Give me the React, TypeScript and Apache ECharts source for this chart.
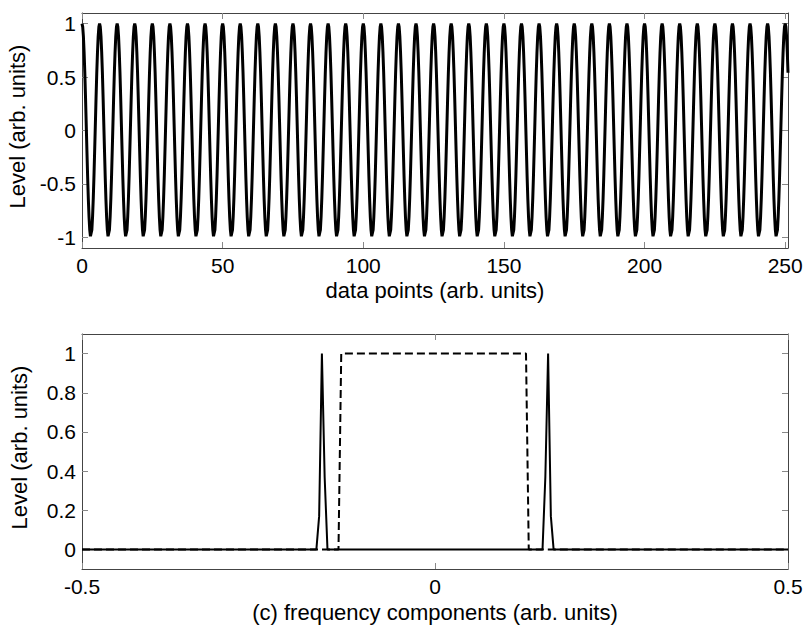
import React, { useEffect, useRef } from "react";
import * as echarts from "echarts";

// Time-domain waveform, sampled every quarter data point (x = index * sampleStep, 0..251)
const sampleStep = 0.25;
const signalLevels: number[] = [
  // x 0 .. 24.75
  1, 0.97, 0.88, 0.73, 0.54, 0.31, 0.06, -0.19, -0.43, -0.64, -0.81, -0.93, -0.99, -0.99, -0.93, -0.81, -0.64, -0.43, -0.19, 0.06, 0.31, 0.54, 0.73, 0.88, 0.97,
  1, 0.97, 0.88, 0.73, 0.54, 0.31, 0.06, -0.19, -0.43, -0.64, -0.81, -0.93, -0.99, -0.99, -0.93, -0.81, -0.64, -0.43, -0.19, 0.06, 0.31, 0.54, 0.73, 0.88, 0.97,
  1, 0.97, 0.88, 0.73, 0.54, 0.31, 0.06, -0.19, -0.43, -0.64, -0.81, -0.93, -0.99, -0.99, -0.93, -0.81, -0.64, -0.43, -0.19, 0.06, 0.31, 0.54, 0.73, 0.88, 0.97,
  1, 0.97, 0.88, 0.73, 0.54, 0.31, 0.06, -0.19, -0.43, -0.64, -0.81, -0.93, -0.99, -0.99, -0.93, -0.81, -0.64, -0.43, -0.19, 0.06, 0.31, 0.54, 0.73, 0.88, 0.97,
  // x 25 .. 49.75
  1, 0.97, 0.88, 0.73, 0.54, 0.31, 0.06, -0.19, -0.43, -0.64, -0.81, -0.93, -0.99, -0.99, -0.93, -0.81, -0.64, -0.43, -0.19, 0.06, 0.31, 0.54, 0.73, 0.88, 0.97,
  1, 0.97, 0.88, 0.73, 0.54, 0.31, 0.06, -0.19, -0.43, -0.64, -0.81, -0.93, -0.99, -0.99, -0.93, -0.81, -0.64, -0.43, -0.19, 0.06, 0.31, 0.54, 0.73, 0.88, 0.97,
  1, 0.97, 0.88, 0.73, 0.54, 0.31, 0.06, -0.19, -0.43, -0.64, -0.81, -0.93, -0.99, -0.99, -0.93, -0.81, -0.64, -0.43, -0.19, 0.06, 0.31, 0.54, 0.73, 0.88, 0.97,
  1, 0.97, 0.88, 0.73, 0.54, 0.31, 0.06, -0.19, -0.43, -0.64, -0.81, -0.93, -0.99, -0.99, -0.93, -0.81, -0.64, -0.43, -0.19, 0.06, 0.31, 0.54, 0.73, 0.88, 0.97,
  // x 50 .. 74.75
  1, 0.97, 0.88, 0.73, 0.54, 0.31, 0.06, -0.19, -0.43, -0.64, -0.81, -0.93, -0.99, -0.99, -0.93, -0.81, -0.64, -0.43, -0.19, 0.06, 0.31, 0.54, 0.73, 0.88, 0.97,
  1, 0.97, 0.88, 0.73, 0.54, 0.31, 0.06, -0.19, -0.43, -0.64, -0.81, -0.93, -0.99, -0.99, -0.93, -0.81, -0.64, -0.43, -0.19, 0.06, 0.31, 0.54, 0.73, 0.88, 0.97,
  1, 0.97, 0.88, 0.73, 0.54, 0.31, 0.06, -0.19, -0.43, -0.64, -0.81, -0.93, -0.99, -0.99, -0.93, -0.81, -0.64, -0.43, -0.19, 0.06, 0.31, 0.54, 0.73, 0.88, 0.97,
  1, 0.97, 0.88, 0.73, 0.54, 0.31, 0.06, -0.19, -0.43, -0.64, -0.81, -0.93, -0.99, -0.99, -0.93, -0.81, -0.64, -0.43, -0.19, 0.06, 0.31, 0.54, 0.73, 0.88, 0.97,
  // x 75 .. 99.75
  1, 0.97, 0.88, 0.73, 0.54, 0.31, 0.06, -0.19, -0.43, -0.64, -0.81, -0.93, -0.99, -0.99, -0.93, -0.81, -0.64, -0.43, -0.19, 0.06, 0.31, 0.54, 0.73, 0.88, 0.97,
  1, 0.97, 0.88, 0.73, 0.54, 0.31, 0.06, -0.19, -0.43, -0.64, -0.81, -0.93, -0.99, -0.99, -0.93, -0.81, -0.64, -0.43, -0.19, 0.06, 0.31, 0.54, 0.73, 0.88, 0.97,
  1, 0.97, 0.88, 0.73, 0.54, 0.31, 0.06, -0.19, -0.43, -0.64, -0.81, -0.93, -0.99, -0.99, -0.93, -0.81, -0.64, -0.43, -0.19, 0.06, 0.31, 0.54, 0.73, 0.88, 0.97,
  1, 0.97, 0.88, 0.73, 0.54, 0.31, 0.06, -0.19, -0.43, -0.64, -0.81, -0.93, -0.99, -0.99, -0.93, -0.81, -0.64, -0.43, -0.19, 0.06, 0.31, 0.54, 0.73, 0.88, 0.97,
  // x 100 .. 124.75
  1, 0.97, 0.88, 0.73, 0.54, 0.31, 0.06, -0.19, -0.43, -0.64, -0.81, -0.93, -0.99, -0.99, -0.93, -0.81, -0.64, -0.43, -0.19, 0.06, 0.31, 0.54, 0.73, 0.88, 0.97,
  1, 0.97, 0.88, 0.73, 0.54, 0.31, 0.06, -0.19, -0.43, -0.64, -0.81, -0.93, -0.99, -0.99, -0.93, -0.81, -0.64, -0.43, -0.19, 0.06, 0.31, 0.54, 0.73, 0.88, 0.97,
  1, 0.97, 0.88, 0.73, 0.54, 0.31, 0.06, -0.19, -0.43, -0.64, -0.81, -0.93, -0.99, -0.99, -0.93, -0.81, -0.64, -0.43, -0.19, 0.06, 0.31, 0.54, 0.73, 0.88, 0.97,
  1, 0.97, 0.88, 0.73, 0.54, 0.31, 0.06, -0.19, -0.43, -0.64, -0.81, -0.93, -0.99, -0.99, -0.93, -0.81, -0.64, -0.43, -0.19, 0.06, 0.31, 0.54, 0.73, 0.88, 0.97,
  // x 125 .. 149.75
  1, 0.97, 0.88, 0.73, 0.54, 0.31, 0.06, -0.19, -0.43, -0.64, -0.81, -0.93, -0.99, -0.99, -0.93, -0.81, -0.64, -0.43, -0.19, 0.06, 0.31, 0.54, 0.73, 0.88, 0.97,
  1, 0.97, 0.88, 0.73, 0.54, 0.31, 0.06, -0.19, -0.43, -0.64, -0.81, -0.93, -0.99, -0.99, -0.93, -0.81, -0.64, -0.43, -0.19, 0.06, 0.31, 0.54, 0.73, 0.88, 0.97,
  1, 0.97, 0.88, 0.73, 0.54, 0.31, 0.06, -0.19, -0.43, -0.64, -0.81, -0.93, -0.99, -0.99, -0.93, -0.81, -0.64, -0.43, -0.19, 0.06, 0.31, 0.54, 0.73, 0.88, 0.97,
  1, 0.97, 0.88, 0.73, 0.54, 0.31, 0.06, -0.19, -0.43, -0.64, -0.81, -0.93, -0.99, -0.99, -0.93, -0.81, -0.64, -0.43, -0.19, 0.06, 0.31, 0.54, 0.73, 0.88, 0.97,
  // x 150 .. 174.75
  1, 0.97, 0.88, 0.73, 0.54, 0.31, 0.06, -0.19, -0.43, -0.64, -0.81, -0.93, -0.99, -0.99, -0.93, -0.81, -0.64, -0.43, -0.19, 0.06, 0.31, 0.54, 0.73, 0.88, 0.97,
  1, 0.97, 0.88, 0.73, 0.54, 0.31, 0.06, -0.19, -0.43, -0.64, -0.81, -0.93, -0.99, -0.99, -0.93, -0.81, -0.64, -0.43, -0.19, 0.06, 0.31, 0.54, 0.73, 0.88, 0.97,
  1, 0.97, 0.88, 0.73, 0.54, 0.31, 0.06, -0.19, -0.43, -0.64, -0.81, -0.93, -0.99, -0.99, -0.93, -0.81, -0.64, -0.43, -0.19, 0.06, 0.31, 0.54, 0.73, 0.88, 0.97,
  1, 0.97, 0.88, 0.73, 0.54, 0.31, 0.06, -0.19, -0.43, -0.64, -0.81, -0.93, -0.99, -0.99, -0.93, -0.81, -0.64, -0.43, -0.19, 0.06, 0.31, 0.54, 0.73, 0.88, 0.97,
  // x 175 .. 199.75
  1, 0.97, 0.88, 0.73, 0.54, 0.31, 0.06, -0.19, -0.43, -0.64, -0.81, -0.93, -0.99, -0.99, -0.93, -0.81, -0.64, -0.43, -0.19, 0.06, 0.31, 0.54, 0.73, 0.88, 0.97,
  1, 0.97, 0.88, 0.73, 0.54, 0.31, 0.06, -0.19, -0.43, -0.64, -0.81, -0.93, -0.99, -0.99, -0.93, -0.81, -0.64, -0.43, -0.19, 0.06, 0.31, 0.54, 0.73, 0.88, 0.97,
  1, 0.97, 0.88, 0.73, 0.54, 0.31, 0.06, -0.19, -0.43, -0.64, -0.81, -0.93, -0.99, -0.99, -0.93, -0.81, -0.64, -0.43, -0.19, 0.06, 0.31, 0.54, 0.73, 0.88, 0.97,
  1, 0.97, 0.88, 0.73, 0.54, 0.31, 0.06, -0.19, -0.43, -0.64, -0.81, -0.93, -0.99, -0.99, -0.93, -0.81, -0.64, -0.43, -0.19, 0.06, 0.31, 0.54, 0.73, 0.88, 0.97,
  // x 200 .. 224.75
  1, 0.97, 0.88, 0.73, 0.54, 0.31, 0.06, -0.19, -0.43, -0.64, -0.81, -0.93, -0.99, -0.99, -0.93, -0.81, -0.64, -0.43, -0.19, 0.06, 0.31, 0.54, 0.73, 0.88, 0.97,
  1, 0.97, 0.88, 0.73, 0.54, 0.31, 0.06, -0.19, -0.43, -0.64, -0.81, -0.93, -0.99, -0.99, -0.93, -0.81, -0.64, -0.43, -0.19, 0.06, 0.31, 0.54, 0.73, 0.88, 0.97,
  1, 0.97, 0.88, 0.73, 0.54, 0.31, 0.06, -0.19, -0.43, -0.64, -0.81, -0.93, -0.99, -0.99, -0.93, -0.81, -0.64, -0.43, -0.19, 0.06, 0.31, 0.54, 0.73, 0.88, 0.97,
  1, 0.97, 0.88, 0.73, 0.54, 0.31, 0.06, -0.19, -0.43, -0.64, -0.81, -0.93, -0.99, -0.99, -0.93, -0.81, -0.64, -0.43, -0.19, 0.06, 0.31, 0.54, 0.73, 0.88, 0.97,
  // x 225 .. 249.75
  1, 0.97, 0.88, 0.73, 0.54, 0.31, 0.06, -0.19, -0.43, -0.64, -0.81, -0.93, -0.99, -0.99, -0.93, -0.81, -0.64, -0.43, -0.19, 0.06, 0.31, 0.54, 0.73, 0.88, 0.97,
  1, 0.97, 0.88, 0.73, 0.54, 0.31, 0.06, -0.19, -0.43, -0.64, -0.81, -0.93, -0.99, -0.99, -0.93, -0.81, -0.64, -0.43, -0.19, 0.06, 0.31, 0.54, 0.73, 0.88, 0.97,
  1, 0.97, 0.88, 0.73, 0.54, 0.31, 0.06, -0.19, -0.43, -0.64, -0.81, -0.93, -0.99, -0.99, -0.93, -0.81, -0.64, -0.43, -0.19, 0.06, 0.31, 0.54, 0.73, 0.88, 0.97,
  1, 0.97, 0.88, 0.73, 0.54, 0.31, 0.06, -0.19, -0.43, -0.64, -0.81, -0.93, -0.99, -0.99, -0.93, -0.81, -0.64, -0.43, -0.19, 0.06, 0.31, 0.54, 0.73, 0.88, 0.97,
  // x 250 .. 251
  1, 0.97, 0.88, 0.73, 0.54,
];

// Spectrum of the signal (solid): two narrow lines
const spectrumFreqs: number[] = [-0.5, -0.168, -0.1641, -0.1602, -0.1563, -0.1523, 0.1523, 0.1563, 0.1602, 0.1641, 0.168, 0.5];
const spectrumLevels: number[] = [0, 0, 0.17, 1, 0.37, 0, 0, 0.37, 1, 0.17, 0, 0];

// Pass band (dashed)
const bandFreqs: number[] = [-0.5, -0.1367, -0.1328, 0.1289, 0.1328, 0.5];
const bandLevels: number[] = [0, 0, 1, 1, 0, 0];

// Tick positions
const timeTicks: number[] = [0, 50, 100, 150, 200, 250];
const levelTicksTop: number[] = [-1, -0.5, 0, 0.5, 1];
const levelTicksBottom: number[] = [0, 0.2, 0.4, 0.6, 0.8, 1];

const FONT = "'Liberation Sans', Arial, Helvetica, sans-serif";
const AXIS_COLOR = "#444";
const TICK_COLOR = "#888";
const TICK_FONT = 21;
const NAME_FONT = 22;

function baseAxis(extra: any) {
  return {
    type: "value",
    splitLine: { show: false },
    axisLine: { show: true, onZero: false, lineStyle: { color: AXIS_COLOR, width: 1 } },
    axisTick: { show: true, inside: true, length: 6, lineStyle: { color: TICK_COLOR } },
    axisLabel: { color: "#000", fontSize: TICK_FONT, fontFamily: FONT },
    nameTextStyle: { color: "#000", fontSize: NAME_FONT, fontFamily: FONT },
    ...extra,
  };
}

function withTicks(axis: any, values: number[], labels: boolean, margin: number) {
  axis.axisTick = { ...axis.axisTick, customValues: values };
  axis.axisLabel = labels
    ? { ...axis.axisLabel, customValues: values, margin }
    : { show: false };
  return axis;
}

// Rotated y-axis title, nudged slightly up along the axis
const yNameStyle = { color: "#000", fontSize: NAME_FONT, fontFamily: FONT, padding: [0, 0, 0, 8] };

export default function App() {
  const ref = useRef<HTMLDivElement>(null);

  useEffect(() => {
    if (!ref.current) return;
    const chart = echarts.init(ref.current, undefined, { renderer: "svg" });

    const timeData = signalLevels.map((v, i) => [i * sampleStep, v]);
    const spectrumData = spectrumFreqs.map((f, i) => [f, spectrumLevels[i]]);
    const bandData = bandFreqs.map((f, i) => [f, bandLevels[i]]);

    const xTopBottom = withTicks(
      baseAxis({ gridIndex: 0, position: "bottom", min: 0, max: 251, name: "data points (arb. units)", nameLocation: "middle", nameGap: 31 }),
      timeTicks, true, 7
    );
    const xTopTop = withTicks(baseAxis({ gridIndex: 0, position: "top", min: 0, max: 251 }), timeTicks, false, 0);
    const xBotBottom = baseAxis({
      gridIndex: 1, position: "bottom", min: -0.5, max: 0.5, interval: 0.5,
      name: "(c) frequency components (arb. units)", nameLocation: "middle", nameGap: 32,
    });
    xBotBottom.axisLabel = { ...xBotBottom.axisLabel, margin: 7 };
    const xBotTop = baseAxis({ gridIndex: 1, position: "top", min: -0.5, max: 0.5, interval: 0.5 });
    xBotTop.axisLabel = { show: false };

    const yTopLeft = withTicks(
      baseAxis({ gridIndex: 0, position: "left", min: -1.1, max: 1.1, name: "Level (arb. units)", nameLocation: "middle", nameGap: 52, nameTextStyle: yNameStyle }),
      levelTicksTop, true, 6
    );
    const yTopRight = withTicks(baseAxis({ gridIndex: 0, position: "right", min: -1.1, max: 1.1 }), levelTicksTop, false, 0);
    const yBotLeft = withTicks(
      baseAxis({ gridIndex: 1, position: "left", min: -0.1, max: 1.1, name: "Level (arb. units)", nameLocation: "middle", nameGap: 52, nameTextStyle: yNameStyle }),
      levelTicksBottom, true, 6
    );
    const yBotRight = withTicks(baseAxis({ gridIndex: 1, position: "right", min: -0.1, max: 1.1 }), levelTicksBottom, false, 0);

    chart.setOption({
      animation: false,
      backgroundColor: "#fff",
      textStyle: { fontFamily: FONT },
      grid: [
        { left: 82, top: 13, width: 706, height: 235, containLabel: false, outerBoundsMode: "none" },
        { left: 82, top: 334, width: 706, height: 235, containLabel: false, outerBoundsMode: "none" },
      ],
      xAxis: [xTopBottom, xTopTop, xBotBottom, xBotTop],
      yAxis: [yTopLeft, yTopRight, yBotLeft, yBotRight],
      series: [
        {
          type: "line", xAxisIndex: 0, yAxisIndex: 0, data: timeData,
          showSymbol: false, lineStyle: { color: "#000", width: 3 }, silent: true,
        },
        {
          type: "line", xAxisIndex: 2, yAxisIndex: 2, data: bandData,
          showSymbol: false, lineStyle: { color: "#000", width: 2, type: [8, 4] }, silent: true,
        },
        {
          type: "line", xAxisIndex: 2, yAxisIndex: 2, data: spectrumData,
          showSymbol: false, lineStyle: { color: "#000", width: 2 }, silent: true,
        },
      ],
    });

    return () => chart.dispose();
  }, []);

  return (
    <div
      ref={ref}
      style={{ position: "fixed", left: 0, top: 0, width: 804, height: 626, background: "#fff" }}
    />
  );
}
